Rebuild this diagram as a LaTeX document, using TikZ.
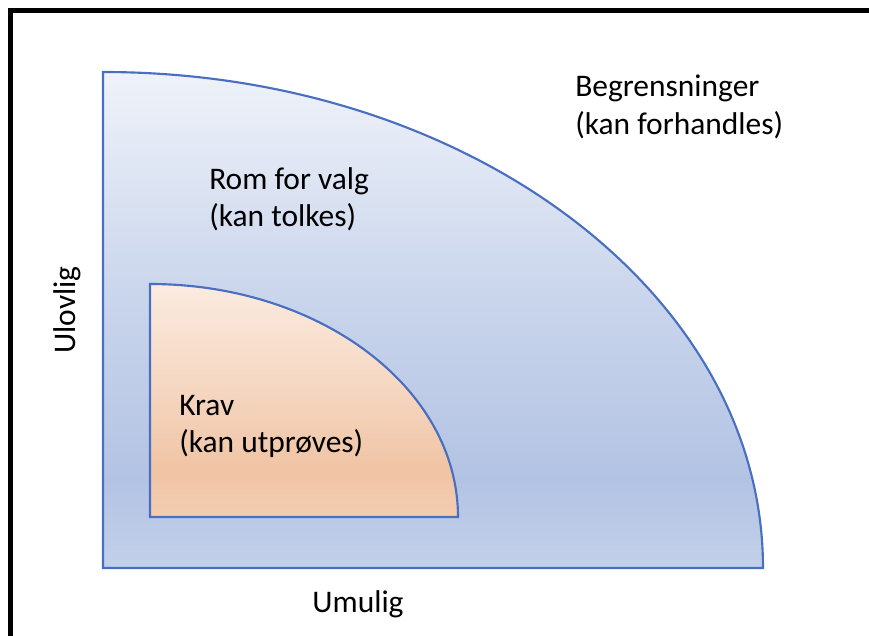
\documentclass[tikz,border=0pt]{standalone}
\usepackage{fontspec}
\setmainfont{Carlito}
\definecolor{edgeblue}{HTML}{4A6FC0}
\definecolor{bTop}{HTML}{EFF2F9}
\definecolor{bMid}{HTML}{C9D5EC}
\definecolor{bDark}{HTML}{B3C3E3}
\definecolor{bBot}{HTML}{C2D0EA}
\definecolor{oTop}{HTML}{FBEBE0}
\definecolor{oMid}{HTML}{F5D6C0}
\definecolor{oDark}{HTML}{F0C4A4}
\definecolor{oBot}{HTML}{F3CDB2}
% vertical shadings, listed from bottom to top; the path spans 25bp..75bp
\pgfdeclareverticalshading{bluefill}{100bp}{color(0bp)=(bBot); color(25bp)=(bBot); color(34bp)=(bDark); color(52bp)=(bMid); color(75bp)=(bTop); color(100bp)=(bTop)}
\pgfdeclareverticalshading{orangefill}{100bp}{color(0bp)=(oBot); color(25bp)=(oBot); color(35bp)=(oDark); color(52bp)=(oMid); color(75bp)=(oTop); color(100bp)=(oTop)}
\tikzset{
  zone/.style={draw=edgeblue, line width=1.6pt, line join=miter},
  label/.style={inner sep=0pt, font=\fontsize{23.6}{28}\selectfont, align=left, text=black},
}
\begin{document}
\begin{tikzpicture}[x=0.75pt, y=-0.75pt]
  \useasboundingbox (0,0) rectangle (869,636);
  % frame (top and left sides only)
  \draw[line width=3.75pt] (10.5,640) -- (10.5,10.5) -- (875,10.5);
  % outer zone
  \path[zone, shading=bluefill] (103,568) -- (103,72)
     arc[start angle=90, end angle=0, x radius=495pt, y radius=372pt] -- cycle;
  % inner zone
  \path[zone, shading=orangefill] (150,517) -- (150,284)
     arc[start angle=90, end angle=0, x radius=231pt, y radius=174.75pt] -- cycle;
  % labels
  \node[label, anchor=north west] (begr) at (575,75) {Begrensninger\\(kan forhandles)};
  \node[label, anchor=north west] (rom) at (209,167) {Rom for valg\\(kan tolkes)};
  \node[label, anchor=north west] (krav) at (179,395) {Krav\\(kan utprøves)};
  \node[label, anchor=center] (umulig) at (358,604) {Umulig};
  \node[label, anchor=center, rotate=90] (ulovlig) at (67,310) {Ulovlig};
\end{tikzpicture}
\end{document}
